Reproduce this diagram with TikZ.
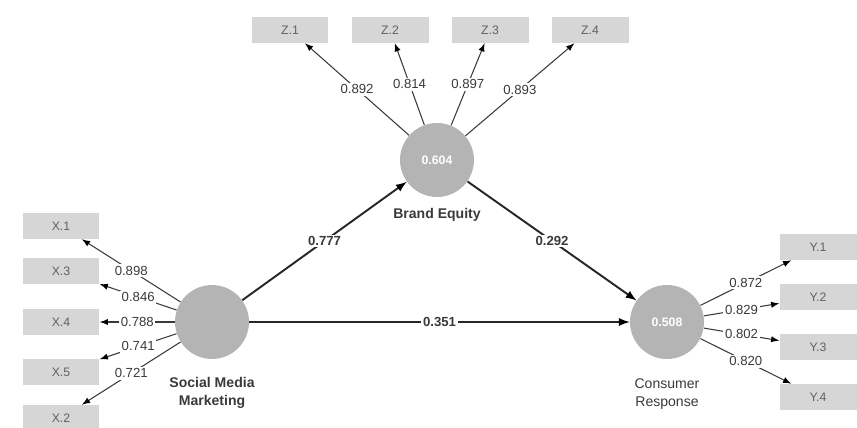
\documentclass[tikz,border=0pt]{standalone}
\usepackage{fontspec}
\setmainfont{Liberation Sans}
\definecolor{boxgray}{HTML}{D6D6D6}
\definecolor{circgray}{HTML}{B4B4B4}
\definecolor{inkgray}{HTML}{3A3A3A}

\begin{document}
\begin{tikzpicture}[x=0.02cm,y=-0.02cm,>=latex,
  load/.style={->,draw=inkgray,semithick,every node/.style={fill=white,inner sep=1pt,text=inkgray,font=\fontsize{7.5}{9}\selectfont}},
  coef/.style={->,draw=black!85,line width=1.1pt,every node/.style={fill=white,inner sep=1pt,text=inkgray,font=\bfseries\fontsize{7.5}{9}\selectfont}},
  lvname/.style={text=inkgray,align=center,font=\bfseries\fontsize{8}{10}\selectfont}]
\useasboundingbox (0,0) rectangle (857,428);
\begin{scope}[every node/.style={rectangle,fill=boxgray,text=inkgray!80,minimum width=1.54cm,minimum height=0.52cm,font=\fontsize{7}{8}\selectfont}]
\node (Z1) at (290,30) {Z.1};
\node (Z2) at (390,30) {Z.2};
\node (Z3) at (490,30) {Z.3};
\node (Z4) at (590,30) {Z.4};
\node (X1) at (61,226) {X.1};
\node (X3) at (61,271) {X.3};
\node (X4) at (61,322) {X.4};
\node (X5) at (61,372) {X.5};
\node (X2) at (61,418) {X.2};
\node (Y1) at (818,247) {Y.1};
\node (Y2) at (818,297) {Y.2};
\node (Y3) at (818,347) {Y.3};
\node (Y4) at (818,397) {Y.4};
\end{scope}
\begin{scope}[every node/.style={circle,fill=circgray,minimum size=1.48cm,text=white,font=\bfseries\fontsize{7}{8}\selectfont}]
\node (BE) at (437,160) {0.604};
\node (SMM) at (212,322) {};
\node (CR) at (667,322) {0.508};
\end{scope}
\node[lvname] (BEname) at (437,215) {Brand Equity};
\node[lvname] (SMMname) at (212,393) {Social Media\\Marketing};
\node[lvname,font=\fontsize{8}{10}\selectfont] (CRname) at (667,394) {Consumer\\Response};
% loadings
\draw [load] (BE) edge node {0.892} (Z1);
\draw [load] (BE) edge node {0.814} (Z2);
\draw [load] (BE) edge node {0.897} (Z3);
\draw [load] (BE) edge node {0.893} (Z4);
\draw [load] (SMM) edge node {0.898} (X1);
\draw [load] (SMM) edge node {0.846} (X3);
\draw [load] (SMM) edge node {0.788} (X4);
\draw [load] (SMM) edge node {0.741} (X5);
\draw [load] (SMM) edge node {0.721} (X2);
\draw [load] (CR) edge node {0.872} (Y1);
\draw [load] (CR) edge node {0.829} (Y2);
\draw [load] (CR) edge node {0.802} (Y3);
\draw [load] (CR) edge node {0.820} (Y4);
% paths
\draw [coef] (SMM) edge node {0.777} (BE);
\draw [coef] (BE) edge node {0.292} (CR);
\draw [coef] (SMM) edge node {0.351} (CR);
\end{tikzpicture}
\end{document}
